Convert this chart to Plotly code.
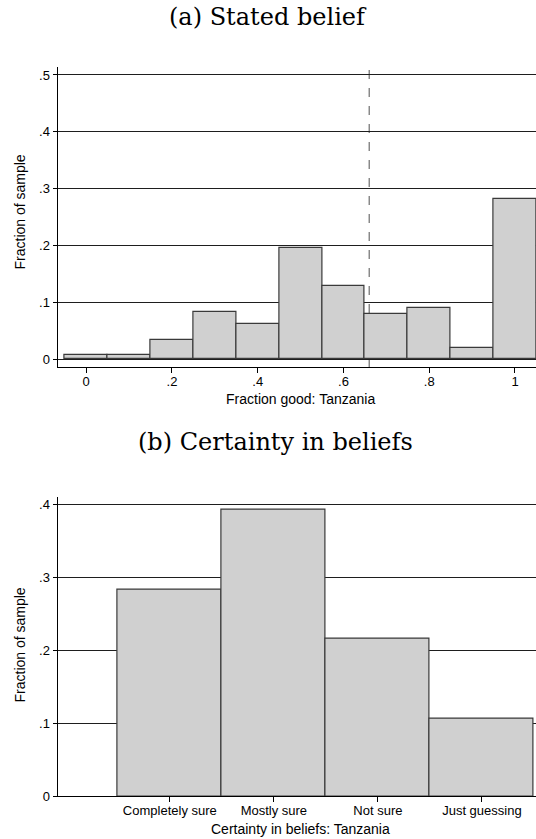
import plotly.graph_objects as go

# Panel (a): histogram of stated beliefs (bin centres and fractions)
belief_bins = [0.0, 0.1, 0.2, 0.3, 0.4, 0.5, 0.6, 0.7, 0.8, 0.9, 1.0]
belief_frac = [0.0076, 0.0076, 0.034, 0.083, 0.062, 0.195, 0.129, 0.080, 0.089, 0.019, 0.282]
belief_ref = 0.66
belief_ticks = [0, 0.2, 0.4, 0.6, 0.8, 1.0]
belief_ticktext = ["0", ".2", ".4", ".6", ".8", "1"]
frac_ticks_a = [0, 0.1, 0.2, 0.3, 0.4, 0.5]
frac_text_a = ["0", ".1", ".2", ".3", ".4", ".5"]

# Panel (b): certainty categories
certainty_labels = ["Completely sure", "Mostly sure", "Not sure", "Just guessing"]
certainty_pos = [1, 2, 3, 4]
certainty_frac = [0.2826, 0.392, 0.2155, 0.1063]
frac_ticks_b = [0, 0.1, 0.2, 0.3, 0.4]
frac_text_b = ["0", ".1", ".2", ".3", ".4"]

W, H = 536, 839
SANS = "Liberation Sans, Arial, sans-serif"
SERIF = "DejaVu Serif, serif"
BAR_FILL = "#d0d0d0"
BAR_LINE = "#3a3a3a"
GRID = "#1e1e1e"


def py(px):
    return 1 - px / H


fig = go.Figure()

fig.add_trace(go.Bar(
    x=belief_bins, y=belief_frac, width=0.1,
    marker=dict(color=BAR_FILL, line=dict(color=BAR_LINE, width=1.2)),
    xaxis="x", yaxis="y", showlegend=False,
))

fig.add_trace(go.Bar(
    x=certainty_pos, y=certainty_frac, width=1.0,
    marker=dict(color=BAR_FILL, line=dict(color=BAR_LINE, width=1.2)),
    xaxis="x2", yaxis="y2", showlegend=False,
))

axis_common = dict(
    showline=True, linecolor="black", linewidth=1,
    ticks="outside", tickcolor="black", tickwidth=1,
    tickfont=dict(family=SANS, size=13, color="black"),
    zeroline=False, fixedrange=True, automargin=False,
)

fig.update_layout(
    width=W, height=H,
    margin=dict(l=0, r=0, t=0, b=0),
    paper_bgcolor="white", plot_bgcolor="white",
    bargap=0,
    xaxis=dict(
        domain=[57.5 / W, 1], range=[-0.067, 1.049],
        tickmode="array", tickvals=belief_ticks, ticktext=belief_ticktext,
        ticklen=5, showgrid=False, anchor="y", ticklabelstandoff=-3,
        **axis_common,
    ),
    yaxis=dict(
        domain=[py(367), py(67)], range=[-0.014, 0.514],
        tickmode="array", tickvals=frac_ticks_a, ticktext=frac_text_a,
        ticklen=4, showgrid=True, gridcolor=GRID, gridwidth=1,
        anchor="x", **axis_common,
    ),
    xaxis2=dict(
        domain=[57.5 / W, 1], range=[-0.08, 4.52],
        tickmode="array", tickvals=certainty_pos, ticktext=certainty_labels,
        ticklen=5, showgrid=False, anchor="y2", ticklabelstandoff=-3,
        **axis_common,
    ),
    yaxis2=dict(
        domain=[py(796.3), py(496.7)], range=[0, 0.41],
        tickmode="array", tickvals=frac_ticks_b, ticktext=frac_text_b,
        ticklen=4, showgrid=True, gridcolor=GRID, gridwidth=1,
        anchor="x2", **axis_common,
    ),
)

# Dashed reference line in panel (a), kept behind the bars
fig.add_shape(
    type="line", xref="x", yref="paper",
    x0=belief_ref, x1=belief_ref, y0=py(367), y1=py(67),
    line=dict(color="#6e6e6e", width=1.2, dash="dash"),
    layer="below",
)

annots = [
    dict(text="(a) Stated belief", x=268 / W, y=py(17),
         font=dict(family=SERIF, size=24, color="black")),
    dict(text="(b) Certainty in beliefs", x=275 / W, y=py(441.5),
         font=dict(family=SERIF, size=24, color="black")),
    dict(text="Fraction good: Tanzania", x=300 / W, y=py(399),
         font=dict(family=SANS, size=14, color="black")),
    dict(text="Certainty in beliefs: Tanzania", x=300 / W, y=py(829),
         font=dict(family=SANS, size=14, color="black")),
    dict(text="Fraction of sample", x=19 / W, y=py(212.5), textangle=-90,
         font=dict(family=SANS, size=14, color="black")),
    dict(text="Fraction of sample", x=19 / W, y=py(645.5), textangle=-90,
         font=dict(family=SANS, size=14, color="black")),
]
for a in annots:
    fig.add_annotation(xref="paper", yref="paper", showarrow=False,
                       xanchor="center", yanchor="middle", **a)

fig.write_html("out.html")
